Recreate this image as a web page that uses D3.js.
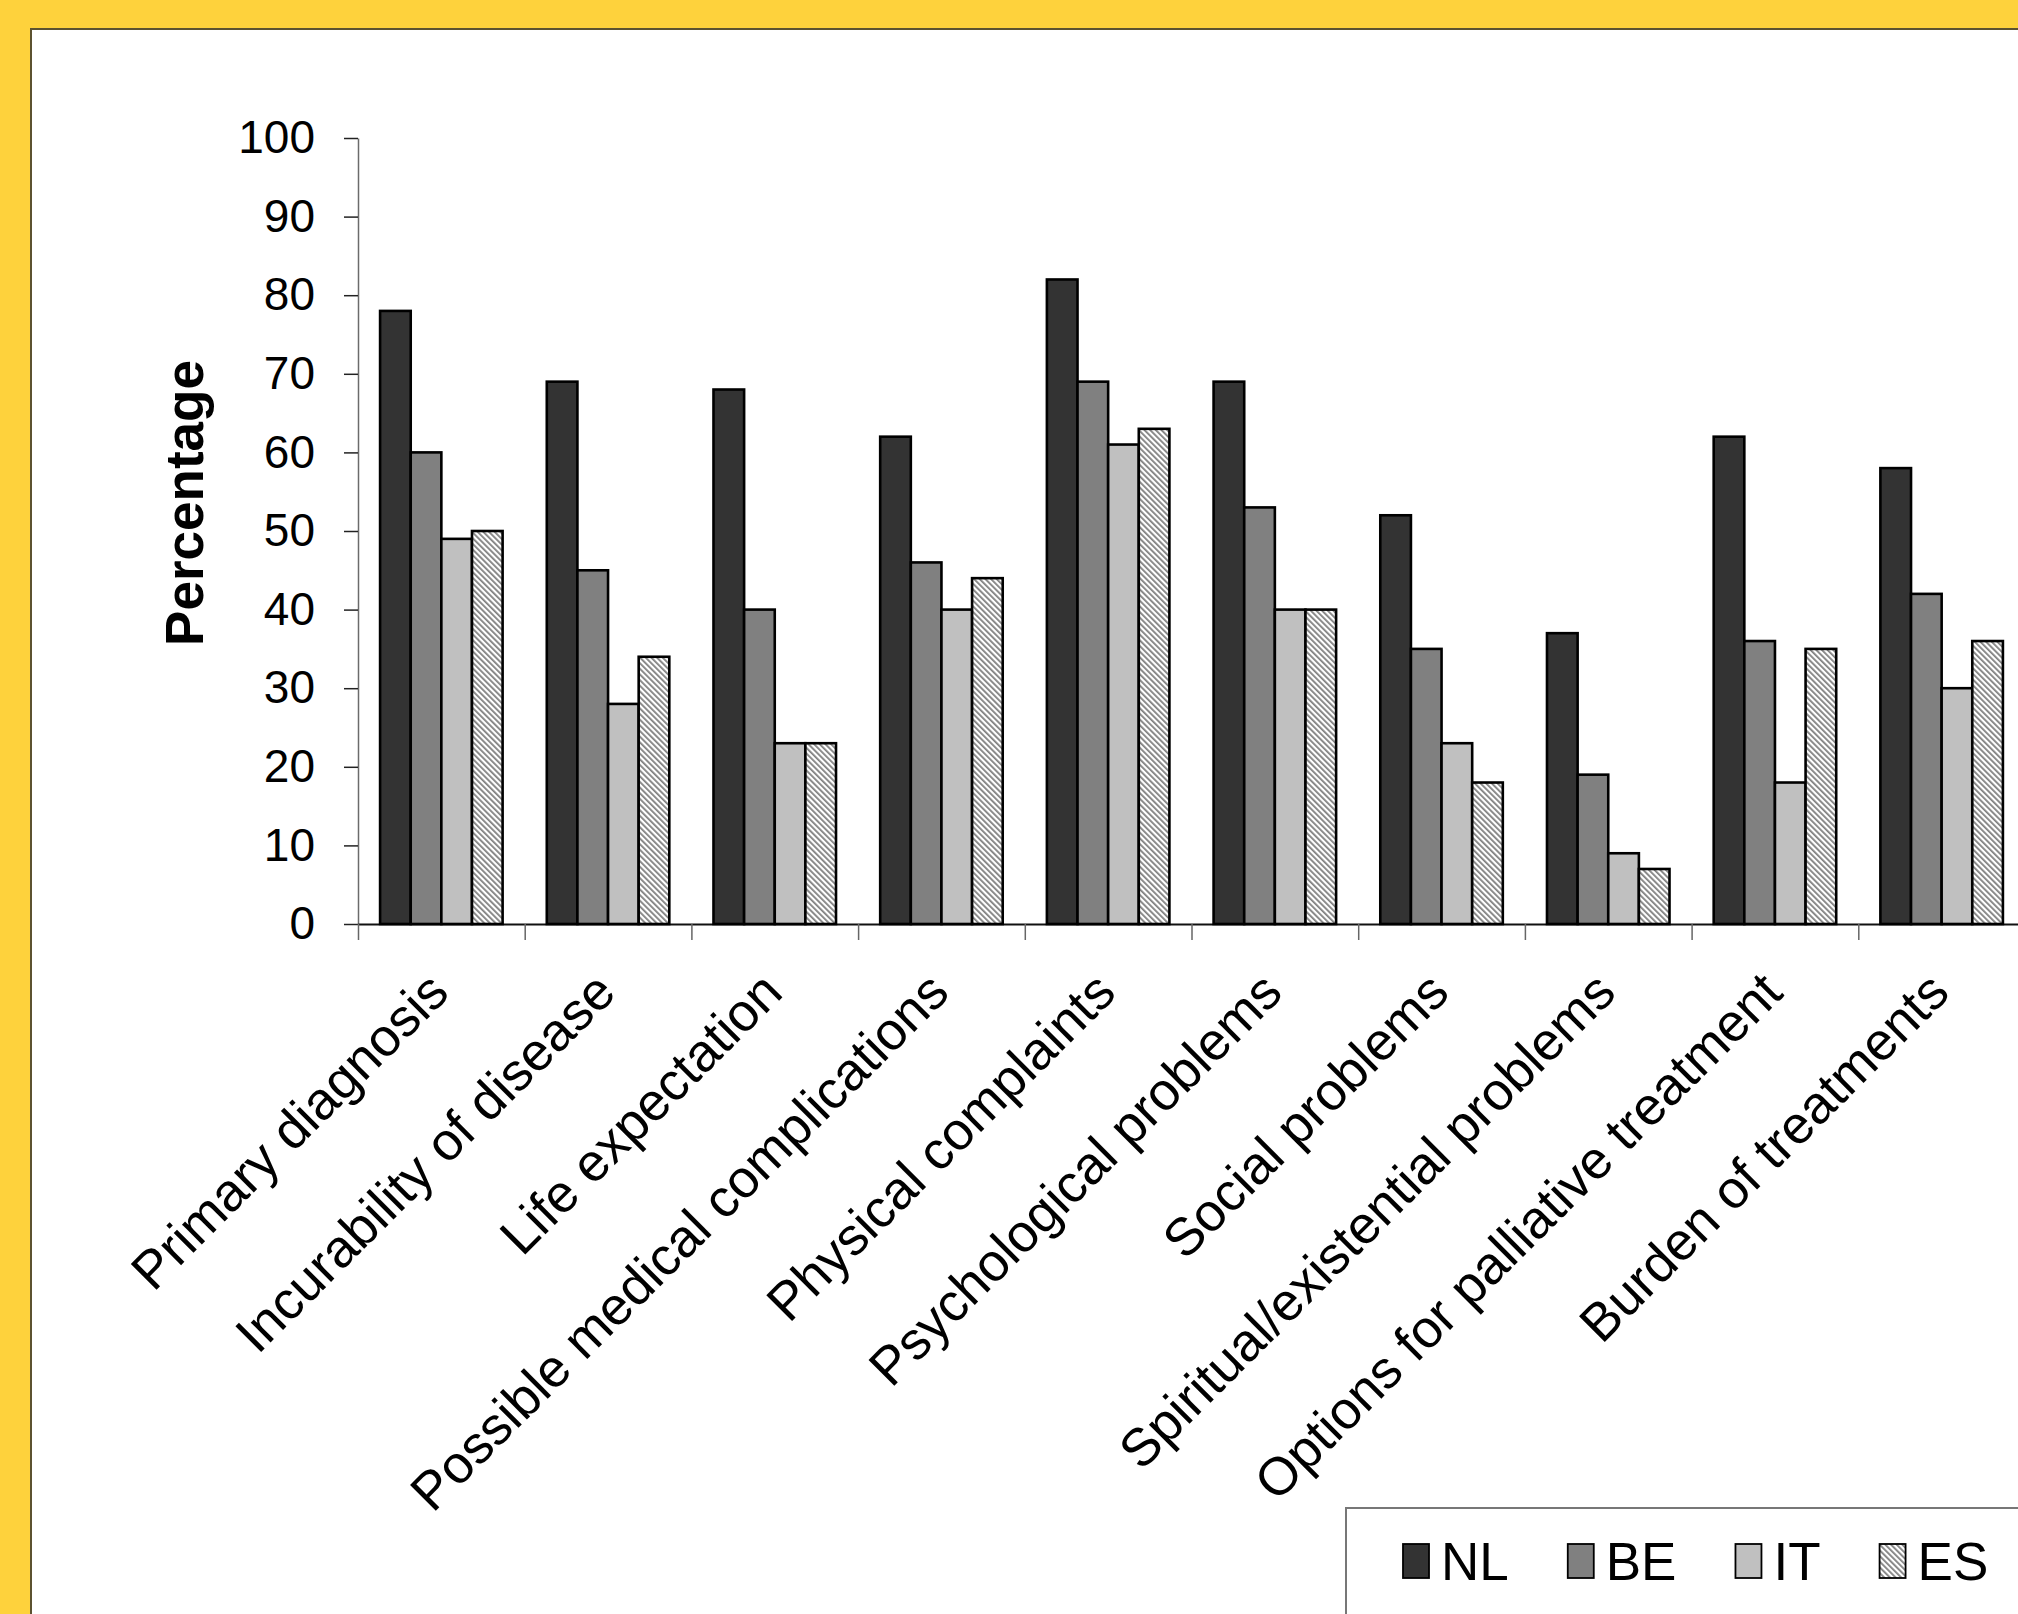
<!DOCTYPE html>
<html>
<head>
<meta charset="utf-8">
<script src="https://cdn.jsdelivr.net/npm/d3@7"></script>
<style>
  html, body { margin: 0; padding: 0; background: #FED23C; overflow: hidden; }
  svg { display: block; }
  text { font-family: "Liberation Sans", Arial, Helvetica, sans-serif; fill: #000; }
</style>
</head>
<body>
<svg id="chart" width="2018" height="1614"></svg>
<script>
// Topics discussed, by country (percentage of respondents)
const categories = [
  "Primary diagnosis",
  "Incurability of disease",
  "Life expectation",
  "Possible medical complications",
  "Physical complaints",
  "Psychological problems",
  "Social problems",
  "Spiritual/existential problems",
  "Options for palliative treatment",
  "Burden of treatments"
];
const seriesNames = ["NL", "BE", "IT", "ES"];
const nlValues = [78, 69, 68, 62, 82, 69, 52, 37, 62, 58];
const beValues = [60, 45, 40, 46, 69, 53, 35, 19, 36, 42];
const itValues = [49, 28, 23, 40, 61, 40, 23, 9, 18, 30];
const esValues = [50, 34, 23, 44, 63, 40, 18, 7, 35, 36];
const yTickValues = [0, 10, 20, 30, 40, 50, 60, 70, 80, 90, 100];
const yAxisTitle = "Percentage";

const seriesValues = [nlValues, beValues, itValues, esValues];
const rows = categories.map((c, i) => ({
  category: c,
  values: seriesNames.map((s, k) => ({ series: s, value: seriesValues[k][i] }))
}));

const W = 2018, H = 1614;
const svg = d3.select("#chart");

// hatched fill for the last series
const defs = svg.append("defs");
const hatch = defs.append("pattern")
  .attr("id", "hatch")
  .attr("patternUnits", "userSpaceOnUse")
  .attr("width", 4).attr("height", 4)
  .attr("patternTransform", "rotate(-45)");
hatch.append("rect").attr("width", 4).attr("height", 4).attr("fill", "#ffffff");
hatch.append("rect").attr("width", 1.8).attr("height", 4).attr("fill", "#808080");

const fills = { NL: "#333333", BE: "#808080", IT: "#C0C0C0", ES: "url(#hatch)" };

// page frame
svg.append("rect").attr("x", 0).attr("y", 0).attr("width", W).attr("height", H).attr("fill", "#FED23C");
svg.append("rect")
  .attr("x", 31).attr("y", 29).attr("width", W + 40).attr("height", H + 40)
  .attr("fill", "#ffffff").attr("stroke", "#5c5230").attr("stroke-width", 2);

// plot geometry
const plotLeft = 358, plotTop = 138, plotBottom = 924;
const step = 166.7;
const plotRight = plotLeft + step * categories.length;

const x = d3.scaleBand()
  .domain(categories)
  .range([plotLeft, plotRight])
  .paddingInner(0.265)
  .paddingOuter(0.1325);

const xs = d3.scaleBand()
  .domain(seriesNames)
  .range([0, x.bandwidth()])
  .padding(0);

const y = d3.scaleLinear().domain([0, 100]).range([plotBottom, plotTop]);

// y axis
const yAxis = svg.append("g")
  .attr("transform", `translate(${plotLeft},0)`)
  .call(d3.axisLeft(y).tickValues(yTickValues).tickSize(14).tickSizeOuter(0).tickPadding(29));
yAxis.select(".domain").attr("stroke", "#6b6b6b").attr("stroke-width", 1.5);
yAxis.selectAll(".tick line").attr("stroke", "#222").attr("stroke-width", 1.5);
yAxis.selectAll(".tick text")
  .attr("font-size", 46)
  .attr("font-family", "'Liberation Sans', Arial, sans-serif")
  .attr("fill", "#000");

// x axis: boundary ticks between categories
const xb = d3.scaleLinear().domain([0, categories.length]).range([plotLeft, plotRight]);
const xAxis = svg.append("g")
  .attr("transform", `translate(0,${plotBottom})`)
  .call(d3.axisBottom(xb).ticks(categories.length).tickSize(16).tickSizeOuter(0).tickFormat(""));
xAxis.select(".domain").attr("stroke", "#111").attr("stroke-width", 2);
xAxis.selectAll(".tick line").attr("stroke", "#666").attr("stroke-width", 1.5);

// bars
const groups = svg.append("g").selectAll("g")
  .data(rows)
  .join("g")
  .attr("transform", d => `translate(${x(d.category)},0)`);

groups.selectAll("rect")
  .data(d => d.values)
  .join("rect")
  .attr("x", d => xs(d.series))
  .attr("y", d => y(d.value))
  .attr("width", xs.bandwidth())
  .attr("height", d => y(0) - y(d.value))
  .attr("fill", d => fills[d.series])
  .attr("stroke", "#000")
  .attr("stroke-width", 2.6);

// category labels, rotated
svg.append("g").selectAll("text")
  .data(categories)
  .join("text")
  .attr("transform", d => `translate(${x(d) + x.bandwidth() / 2 + 10},${plotBottom + 71}) rotate(-45)`)
  .attr("text-anchor", "end")
  .attr("font-size", 53)
  .text(d => d);

// y axis title
svg.append("text")
  .attr("transform", `translate(${203},${503}) rotate(-90)`)
  .attr("text-anchor", "middle")
  .attr("font-size", 53)
  .attr("font-weight", "bold")
  .text(yAxisTitle);

// legend
const legendBox = { x: 1346, y: 1508 };
svg.append("rect")
  .attr("x", legendBox.x).attr("y", legendBox.y)
  .attr("width", W).attr("height", H)
  .attr("fill", "#ffffff").attr("stroke", "#777").attr("stroke-width", 2);

const legend = svg.append("g");
let lx = 1403;
seriesNames.forEach(name => {
  legend.append("rect")
    .attr("x", lx).attr("y", 1544)
    .attr("width", 26).attr("height", 34)
    .attr("fill", fills[name])
    .attr("stroke", "#000").attr("stroke-width", 1.8);
  const t = legend.append("text")
    .attr("x", lx + 38).attr("y", 1580)
    .attr("font-size", 53)
    .text(name);
  lx = lx + 38 + t.node().getComputedTextLength() + 59;
});
</script>
</body>
</html>
